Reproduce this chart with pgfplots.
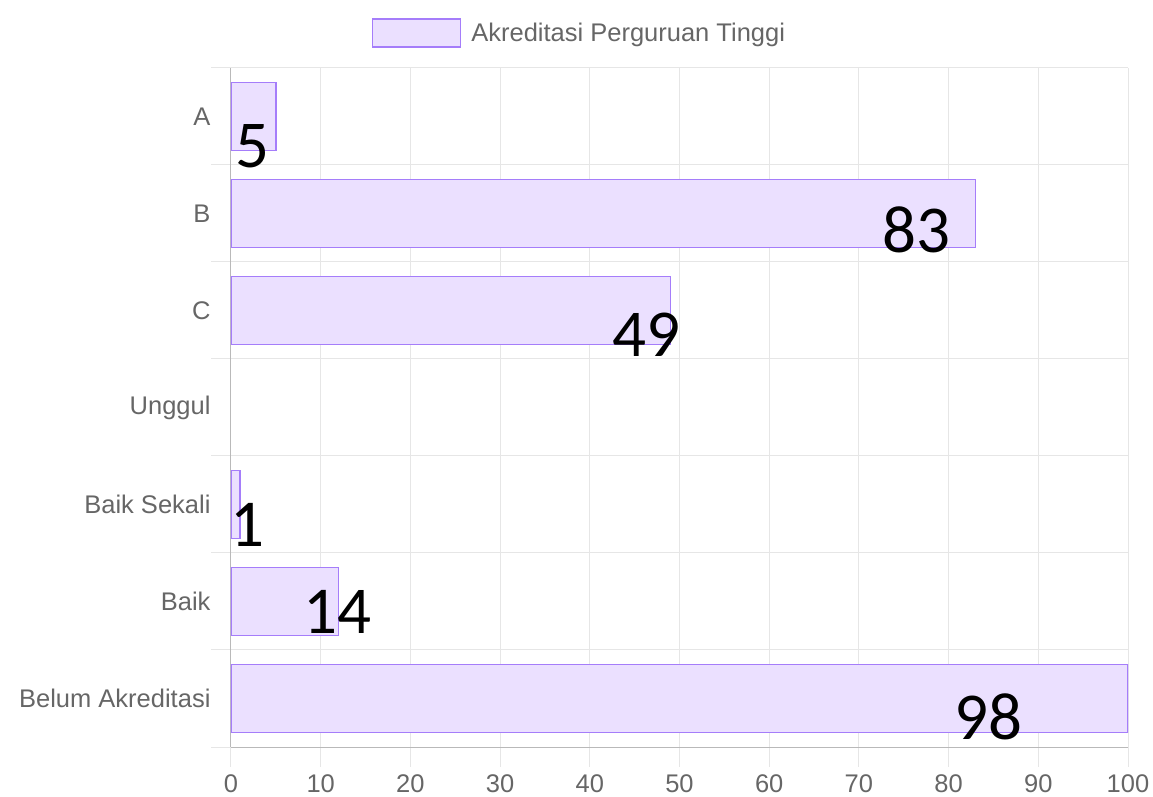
\documentclass[border=0pt]{standalone}
\usepackage{fontspec}
\setmainfont{Liberation Sans}
\newfontfamily\lblfont{Carlito}
\usepackage{pgfplots}
\pgfplotsset{compat=1.18}
\usepackage{pgfplotstable}
\definecolor{barfill}{RGB}{235,224,255}
\definecolor{barline}{RGB}{165,125,250}
\definecolor{gridc}{RGB}{230,230,230}
\definecolor{txt}{RGB}{102,102,102}
\definecolor{axisc}{RGB}{185,185,185}

% category index: A=6, B=5, C=4, Unggul=3, Baik Sekali=2, Baik=1, Belum Akreditasi=0
\pgfplotstableread{
y val
6 5
5 83
4 49
2 1
1 12
0 100
}\bars
\pgfplotstableread{
x y lab
2.34 5.69 5
76.4 4.83 83
46.3 3.75 49
1.8 1.79 1
11.9 0.89 14
84.4 -0.19 98
}\labels

\begin{document}
\begin{tikzpicture}
\useasboundingbox (-231bp,-50bp) rectangle (922bp,747bp);
\begin{axis}[
  scale only axis, width=897bp, height=679bp,
  at={(0,0)}, anchor=south west,
  xmin=0, xmax=100, ymin=-0.5, ymax=6.5,
  axis lines=left,
  axis line style={-, draw=axisc, line width=1bp},
  xtick={0,10,...,100},
  ytick={-0.5,0.5,...,6.5}, yticklabels={},
  grid=major, major grid style={draw=gridc, line width=1bp},
  tick align=outside, major tick length=20bp,
  tick style={draw=gridc, line width=1bp},
  extra y ticks={0,1,...,6},
  extra y tick labels={Belum Akreditasi,Baik,Baik Sekali,Unggul,C,B,A},
  extra y tick style={major tick length=0pt, grid=none},
  /pgf/number format/assume math mode=true,
  tick label style={font=\fontsize{25.5bp}{30bp}\selectfont, text=txt},
  yticklabel style={xshift=-17bp},
  xticklabel style={yshift=-4bp},
  legend style={at={(rel axis cs:0.3883,1.0515)}, anchor=center, draw=none, fill=none,
    font=\fontsize{25.5bp}{30bp}\selectfont, text=txt},
  legend cell align=left,
  legend image code/.code={\draw[#1] (0bp,-14bp) rectangle (88bp,14bp); \path[draw=none,fill=none] (0bp,0bp) -- (97bp,0bp);},
]
\addplot[xbar, bar width=0.7, fill=barfill, draw=barline, line width=1.5bp]
  table[x=val, y=y] {\bars};
\addlegendentry{Akreditasi Perguruan Tinggi}
\addplot[draw=none, mark=none, forget plot, nodes near coords, point meta=explicit symbolic,
  nodes near coords align=center,
  every node near coord/.append style={anchor=center, inner sep=0pt, text=black,
    font=\lblfont\fontsize{67bp}{70bp}\selectfont}]
  table[x=x, y=y, meta=lab] {\labels};
\end{axis}
\end{tikzpicture}
\end{document}
